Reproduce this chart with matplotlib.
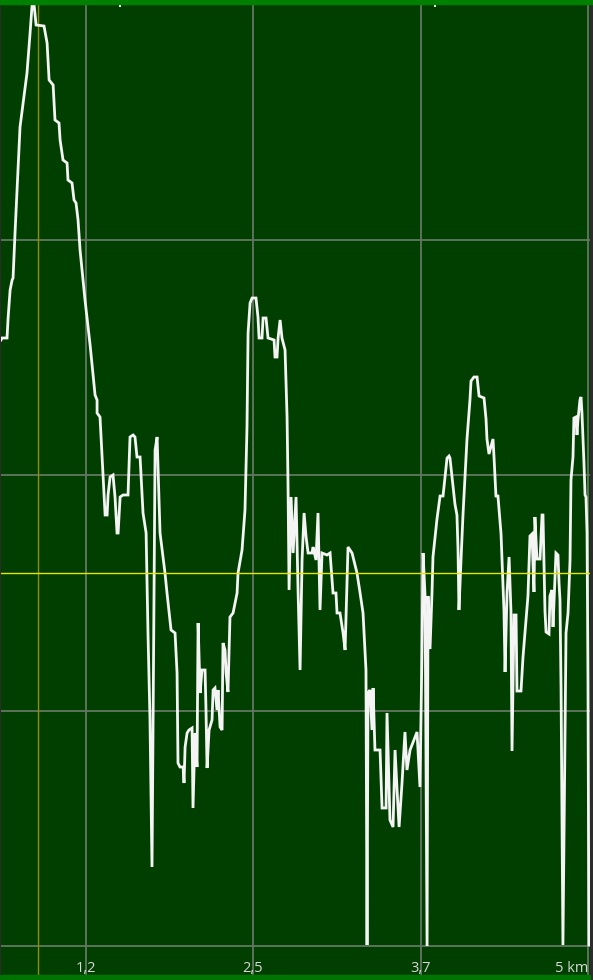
import matplotlib
matplotlib.use("Agg")
import matplotlib.pyplot as plt
from matplotlib.patches import Rectangle
import numpy as np

# ---- data (distance in km, elevation in m) ----
distance_km = [
    0.619, 0.627, 0.664, 0.672, 0.687, 0.702, 0.709, 0.724, 0.761, 0.784,
    0.813, 0.836, 0.851, 0.866, 0.881, 0.940, 0.963, 0.978, 1.008, 1.022,
    1.052, 1.060, 1.082, 1.112, 1.119, 1.149, 1.164, 1.179, 1.194, 1.209,
    1.231, 1.246, 1.284, 1.321, 1.336, 1.336, 1.358,
    1.381, 1.396, 1.411, 1.418, 1.433, 1.455, 1.470, 1.485, 1.493, 1.508,
    1.530, 1.567, 1.582, 1.605, 1.619, 1.634, 1.657, 1.679, 1.702, 1.716,
    1.731, 1.746, 1.769, 1.784, 1.806, 1.843, 1.858, 1.888, 1.918, 1.933,
    1.940, 1.955, 1.978, 1.985, 1.993, 2.008, 2.022, 2.045, 2.052, 2.067,
    2.082, 2.090, 2.105, 2.119, 2.142, 2.149, 2.157, 2.172, 2.194, 2.202,
    2.216, 2.231, 2.239, 2.254, 2.269, 2.276, 2.291, 2.299, 2.313, 2.328,
    2.351, 2.381, 2.388, 2.418, 2.440, 2.455, 2.463, 2.478, 2.493, 2.522,
    2.537, 2.545, 2.567, 2.575, 2.597, 2.612, 2.657, 2.664, 2.679, 2.687,
    2.702, 2.716, 2.739, 2.754, 2.761, 2.769, 2.784, 2.799, 2.821, 2.836,
    2.851, 2.866, 2.881, 2.896, 2.911, 2.940, 2.948, 2.970, 2.985, 3.000,
    3.015, 3.052, 3.075, 3.097, 3.119, 3.127, 3.149, 3.172, 3.187, 3.209,
    3.239, 3.276, 3.299, 3.321, 3.343, 3.351, 3.358, 3.373, 3.388, 3.396,
    3.410, 3.448, 3.463, 3.493, 3.500, 3.522, 3.545, 3.560, 3.575, 3.590,
    3.612, 3.634, 3.649, 3.672, 3.724, 3.746, 3.761, 3.769, 3.784, 3.799,
    3.806, 3.821, 3.836, 3.843, 3.873, 3.896, 3.918, 3.933, 3.948, 3.963,
    3.970, 3.985, 4.007, 4.022, 4.030, 4.037, 4.052, 4.067, 4.082, 4.097,
    4.119, 4.127, 4.149, 4.172, 4.187, 4.224, 4.239, 4.246, 4.261, 4.291,
    4.299, 4.313, 4.328, 4.351, 4.373, 4.381, 4.396, 4.411, 4.425, 4.433,
    4.448, 4.463, 4.470, 4.500, 4.515, 4.530, 4.552, 4.567, 4.582, 4.597,
    4.604, 4.619, 4.642, 4.657, 4.664, 4.679, 4.687, 4.709, 4.716, 4.731,
    4.739, 4.754, 4.761, 4.776, 4.784, 4.791, 4.799, 4.813, 4.836, 4.851,
    4.866, 4.873, 4.888, 4.895, 4.910, 4.918, 4.925, 4.940, 4.948, 4.955,
    4.970, 4.978, 4.985, 4.993, 5.000, 5.007,
]
elevation_m = [
    303, 304, 304, 314, 328, 333, 334, 357, 409.5, 421.5,
    436.5, 456.5, 470.5, 470.5, 460.5, 460, 451.5, 433, 430.5, 413,
    411.5, 403, 393, 391.5, 383, 381.5, 373, 371.5, 363, 348,
    333, 323, 300.5, 275.5, 273, 266.5, 264.5,
    234.5, 215.5, 215.5, 225.5, 234.5, 235.5, 224.5, 206.5, 206.5, 224.5,
    225.5, 225.5, 254.5, 255.5, 254.5, 244.5, 244.5, 216.5, 206.5, 156.5,
    113, 39.5, 248, 254.5, 206.5, 186.5, 176.5, 158, 156.5, 136.5,
    91.5, 89.5, 89.5, 81.5, 99.5, 106.5, 108, 109, 69, 106.5,
    89.5, 161.5, 126.5, 138, 138, 118, 89, 108, 113, 128,
    129, 118, 128, 109.5, 108, 151.5, 148, 136.5, 127, 164.5,
    166.5, 176.5, 186.5, 198, 218, 259.5, 306.5, 321.5, 324, 324,
    314.5, 304, 304, 314, 314, 304, 303, 294.5, 294.5, 304,
    313, 304, 298, 264.5, 231.5, 178, 224.5, 196.5, 224.5, 178,
    138, 193, 216.5, 204.5, 196.5, 196.5, 199.5, 193, 216.5, 168,
    196.5, 195.5, 196.5, 176.5, 176.5, 166.5, 166.5, 156.5, 148, 199.5,
    196.5, 186.5, 176.5, 166.5, 138, 0.5, 126.5, 128, 108, 129,
    98, 98, 69, 69, 116.5, 63, 59.5, 98, 78, 59.5,
    81.5, 107, 88, 98, 107, 79.5, 148, 196.5, 175, 0,
    175, 148.5, 177, 194.5, 213.5, 225, 225, 234.5, 244, 245,
    244, 234.5, 221, 215.5, 198, 168, 192.5, 215.5, 234.5, 253.5,
    273, 282.5, 284.5, 284.5, 275, 274, 263.5, 253.5, 246, 253.5,
    244, 225, 225, 206, 167.5, 137, 177, 194.5, 167.5, 97.5,
    165.5, 165.5, 127.5, 127.5, 144.5, 157, 175, 205, 206, 177,
    214.5, 193.5, 193.5, 215.5, 215.5, 167.5, 157, 156, 175, 178,
    159.5, 185.5, 196.5, 195.5, 181.5, 173, 128, 0.5, 156.5, 166.5,
    193, 233, 244.5, 264, 264.5, 255.5, 263, 273, 274.5, 266.5,
    241.5, 225.5, 224.5, 206.5, 133, 0.5,
]
tick_km = [1.25, 2.5, 3.75, 5.0]
tick_labels = ["1,2", "2,5", "3,7", "5 km"]
cursor_km = 0.896
cursor_elev = 186.5
top_marks_km = [1.508, 3.858]
x_range = (0.619, 5.015)
y_range = (-14.5, 471)
y_grid = [0, 117.75, 235.5, 353.25]

W, H = 593, 980
fig = plt.figure(figsize=(W / 100, H / 100), dpi=100)
fig.patch.set_facecolor('#2c2c2c')

ax = fig.add_axes([1 / W, (H - 975) / H, 589 / W, 971 / H])
ax.set_facecolor('#003f00')
ax.set_xlim(*x_range)
ax.set_ylim(*y_range)
for s in ax.spines.values():
    s.set_visible(False)
ax.set_xticks([])
ax.set_yticks([])

grid_kw = dict(color='#637663', lw=1.3, zorder=1)
for g in y_grid:
    ax.axhline(g, **grid_kw)
for t in tick_km:
    ax.axvline(t, **grid_kw)

ax.axvline(cursor_km, color='#8f8f00', lw=1.0, zorder=2)
ax.plot(distance_km, elevation_m, color='#f4f4f4', lw=2.0, zorder=3,
        solid_joinstyle='miter')
ax.axhline(cursor_elev, color='#e6e600', lw=1.0, zorder=4)

for t, lab in zip(tick_km, tick_labels):
    ha = 'right' if lab.endswith('km') else 'center'
    ax.text(t, -11.2, lab, ha=ha, va='center', color='#d8d8d8',
            fontsize=10.5, family=['Open Sans', 'DejaVu Sans'], zorder=5)

# green bars at top and bottom
fig.add_artist(Rectangle((0, (H - 4) / H), 1, 4 / H, transform=fig.transFigure,
                         color='#008000', zorder=10))
fig.add_artist(Rectangle((0, 0), 590 / W, 5 / H, transform=fig.transFigure,
                         color='#007400', zorder=10))
for m in top_marks_km:
    ax.plot([m], [471], marker='|', color='white', ms=4, mew=1.5,
            clip_on=False, zorder=11)

fig.savefig('out.png', dpi=100, facecolor=fig.get_facecolor())
